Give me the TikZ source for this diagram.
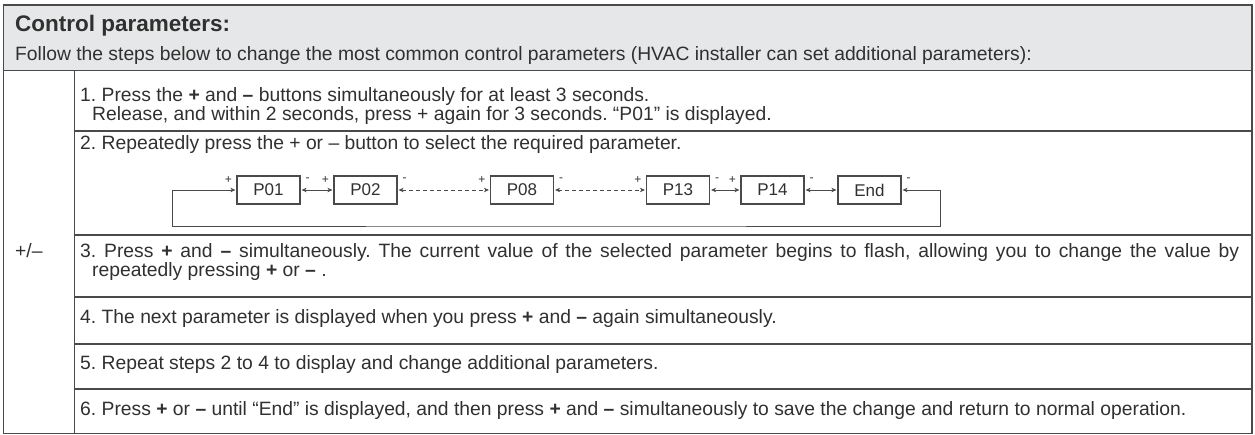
\documentclass[tikz,border=0pt]{standalone}
\usepackage{fontspec}
\setmainfont{Liberation Sans}
\usetikzlibrary{arrows.meta}
\definecolor{ink}{HTML}{303030}
\definecolor{rule}{HTML}{4A4A4A}
\definecolor{headfill}{HTML}{E6E7E8}
\frenchspacing
\begin{document}
\begin{tikzpicture}[x=1pt,y=-1pt,
  body/.style={anchor=base west, inner sep=0pt, text=ink, font=\fontsize{19.3}{19}\selectfont},
  head/.style={anchor=base west, inner sep=0pt, text=ink, font=\fontsize{22.5}{22}\selectfont\bfseries},
  pbox/.style={draw=rule, line width=1.2pt, minimum width=63pt, minimum height=28pt, inner sep=0pt, text=ink, font=\fontsize{17}{17}\selectfont},
  sign/.style={inner sep=0pt, text=ink, font=\fontsize{12}{12}\selectfont},
  link/.style={draw=rule, line width=0.8pt, {Stealth[length=5pt,width=4.5pt,inset=1.5pt]}-{Stealth[length=5pt,width=4.5pt,inset=1.5pt]}, shorten >=1pt, shorten <=1pt},
  feed/.style={draw=rule, line width=0.8pt, -{Stealth[length=5pt,width=4.5pt,inset=1.5pt]}, shorten >=1pt},
  wire/.style={draw=rule, line width=0.8pt},
  grid/.style={draw=rule, line width=1.3pt}]
\useasboundingbox (0,0) rectangle (1255,435);

% header band
\fill[headfill] (3.5,5) rectangle (1252,70.5);

% table rules
\draw[grid] (3.5,433.5) -- (3.5,5) -- (1252,5) -- (1252,433.5) -- cycle;
\draw[grid] (3.5,70.5) -- (1252,70.5);
\draw[grid] (74.5,70.5) -- (74.5,433.5);
\foreach \yy in {131,235,297,344,389} \draw[grid] (74.5,\yy) -- (1252,\yy);

% header text
\node[head] (title) at (15,32) {Control parameters:};
\node[body] (intro) at (15,61) {Follow the steps below to change the most common control parameters (HVAC installer can set additional parameters):};

% key column
\node[body] (keys) at (15,258) {+/–};

% step texts
\node[body] (s1a) at (80,102) {1. Press the \textbf{+} and \textbf{–} buttons simultaneously for at least 3 seconds.};
\node[body] (s1b) at (92,121) {Release, and within 2 seconds, press + again for 3 seconds. “P01” is displayed.};
\node[body] (s2) at (80,150) {2. Repeatedly press the + or – button to select the required parameter.};
\node[body] (s3a) at (80,258) {\makebox[1159pt][s]{3. Press \textbf{+} and \textbf{–} simultaneously. The current value of the selected parameter begins to flash, allowing you to change the value by}};
\node[body] (s3b) at (92,277) {repeatedly pressing \textbf{+} or \textbf{–} .};
\node[body] (s4) at (80,324) {4. The next parameter is displayed when you press \textbf{+} and \textbf{–} again simultaneously.};
\node[body] (s5) at (80,370) {5. Repeat steps 2 to 4 to display and change additional parameters.};
\node[body] (s6) at (80,415) {6. Press \textbf{+} or \textbf{–} until “End” is displayed, and then press \textbf{+} and \textbf{–} simultaneously to save the change and return to normal operation.};

% parameter sequence
\node[pbox] (p01) at (268.5,190) {P01};
\node[pbox] (p02) at (365.5,190) {P02};
\node[pbox] (p08) at (522,190) {P08};
\node[pbox] (p13) at (678,190) {P13};
\node[pbox] (p14) at (772.5,190) {P14};
\node[pbox] (pend) at (869.5,190) {End};

\draw[link] (p01) -- (p02);
\draw[link, dash pattern=on 4pt off 3pt] (p02) -- (p08);
\draw[link, dash pattern=on 4pt off 3pt] (p08) -- (p13);
\draw[link] (p13) -- (p14);
\draw[link] (p14) -- (pend);

% wrap-around loop
\coordinate (loopL) at (172.3,190);
\coordinate (loopR) at (940.7,190);
\coordinate (loopB) at (556,226);
\draw[wire] (loopL) |- (loopB) -| (loopR);
\draw[feed] (loopL) -- (p01);
\draw[feed] (loopR) -- (pend);

% button marks
\foreach \b in {p01,p02,p08,p13,p14} {
  \node[sign] at ([shift={(-8,-10)}]\b.west) {+};
}
\foreach \b in {p01,p02,p08,p13,p14,pend} {
  \node[sign] at ([shift={(7,-10)}]\b.east) {-};
}
\end{tikzpicture}
\end{document}
